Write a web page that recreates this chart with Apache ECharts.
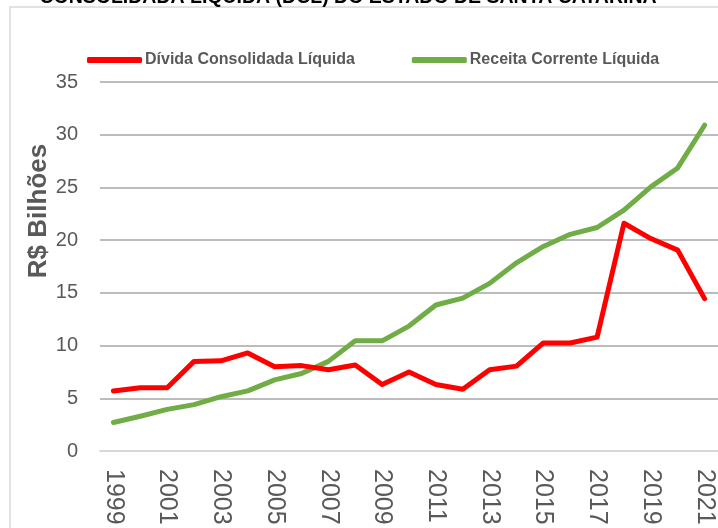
<!DOCTYPE html>
<html>
<head>
<meta charset="utf-8">
<style>
  html, body { margin: 0; padding: 0; background: #ffffff; }
  #chart { width: 718px; height: 528px; }
</style>
<script src="https://cdn.jsdelivr.net/npm/echarts@6/dist/echarts.min.js"></script>
</head>
<body>
<div id="chart"></div>
<script>
// anos (eixo x)
const years = [
  "1999", "2000", "2001", "2002", "2003", "2004", "2005", "2006", "2007", "2008", "2009", "2010",
  "2011", "2012", "2013", "2014", "2015", "2016", "2017", "2018", "2019", "2020", "2021",
];

// R$ bilhões
const dividaConsolidada = [
  5.7, 6.0, 6.0, 8.5, 8.55, 9.3, 8.0, 8.1, 7.7, 8.15, 6.3, 7.5,
  6.3, 5.85, 7.7, 8.05, 10.25, 10.25, 10.8, 21.6, 20.15, 19.05, 14.45,
];
const receitaCorrente = [
  2.7, 3.3, 3.95, 4.4, 5.15, 5.7, 6.75, 7.35, 8.5, 10.45, 10.45, 11.85,
  13.85, 14.5, 15.9, 17.85, 19.4, 20.55, 21.2, 22.85, 25.05, 26.85, 30.9,
];

const titleText = "CONSOLIDADA LÍQUIDA (DCL) DO ESTADO DE SANTA CATARINA";
const yAxisTitle = "R$ Bilhões";

const chart = echarts.init(document.getElementById("chart"), null, { renderer: "canvas" });

const labelColor = "#595959";
const baseFont = "'Liberation Sans', Arial, sans-serif";

chart.setOption({
  animation: false,
  backgroundColor: "#ffffff",
  graphic: [
    {
      type: "rect",
      shape: { x: 10, y: 7, width: 800, height: 600 },
      style: { fill: "none", stroke: "#d9d9d9", lineWidth: 1.5 },
      z: 0,
    },
    {
      type: "text",
      x: 348,
      y: 8,
      style: {
        text: titleText,
        fill: "#000000",
        font: "bold 19.5px " + baseFont,
        textAlign: "center",
        textVerticalAlign: "bottom",
      },
    },
    {
      type: "text",
      x: 39,
      y: 211,
      rotation: Math.PI / 2,
      style: {
        text: yAxisTitle,
        fill: labelColor,
        font: "bold 26px " + baseFont,
        textAlign: "center",
        textVerticalAlign: "middle",
      },
    },
  ],
  legend: {
    left: 82,
    top: 47,
    width: 700,
    itemWidth: 55,
    itemHeight: 6,
    itemGap: 57,
    icon: "roundRect",
    textStyle: {
      color: labelColor,
      fontSize: 16,
      fontWeight: "bold",
      fontFamily: baseFont,
      padding: [0, 0, 0, -2],
    },
    data: ["Dívida Consolidada Líquida", "Receita Corrente Líquida"],
  },
  grid: {
    left: 100,
    top: 82,
    width: 621,
    height: 369,
    containLabel: false,
  },
  xAxis: {
    type: "category",
    data: years,
    boundaryGap: true,
    axisLine: { lineStyle: { color: "#d9d9d9", width: 2 } },
    axisTick: { show: false },
    axisLabel: {
      interval: 1,
      rotate: -90,
      margin: 18,
      color: labelColor,
      fontSize: 25,
      fontFamily: baseFont,
    },
    splitLine: { show: false },
  },
  yAxis: {
    type: "value",
    min: 0,
    max: 35,
    interval: 5,
    axisLine: { show: false },
    axisTick: { show: false },
    axisLabel: {
      margin: 22,
      color: labelColor,
      fontSize: 20,
      fontFamily: baseFont,
    },
    splitLine: { lineStyle: { color: "#a6a6a6", width: 1.5 } },
  },
  series: [
    {
      name: "Dívida Consolidada Líquida",
      type: "line",
      data: dividaConsolidada,
      symbol: "none",
      color: "#ff0000",
      lineStyle: { color: "#ff0000", width: 5, cap: "round", join: "round" },
      z: 3,
    },
    {
      name: "Receita Corrente Líquida",
      type: "line",
      data: receitaCorrente,
      symbol: "none",
      color: "#70ad47",
      lineStyle: { color: "#70ad47", width: 5, cap: "round", join: "round" },
      z: 2,
    },
  ],
});
</script>
</body>
</html>
